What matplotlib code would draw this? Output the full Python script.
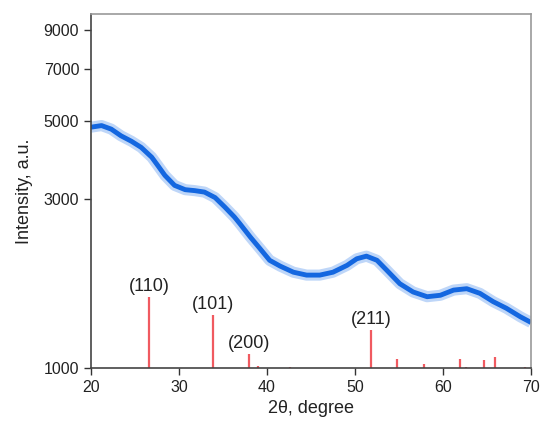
import matplotlib
matplotlib.use('Agg')
import matplotlib.pyplot as plt
from matplotlib.ticker import FixedLocator, NullLocator

plt.rcParams['font.family'] = ['Liberation Sans', 'DejaVu Sans']

two_theta = [20.0, 21.2, 22.3, 23.4, 24.6, 25.7, 26.9, 27.6, 28.4, 29.5,
             30.7, 31.8, 32.9, 34.1, 35.2, 36.3, 36.9, 38.1, 39.2, 40.3,
             41.5, 43.0, 44.5, 46.0, 47.5, 49.1, 50.2, 51.3, 52.5, 53.6,
             55.1, 56.6, 58.2, 59.7, 61.2, 62.7, 64.2, 65.7, 67.2, 68.8,
             70.0]
intensity = [4790, 4840, 4730, 4530, 4370, 4200, 3940, 3730, 3500, 3280,
             3190, 3170, 3140, 3030, 2850, 2670, 2560, 2345, 2175, 2015,
             1940, 1865, 1830, 1830, 1865, 1950, 2035, 2070, 2015, 1890,
             1730, 1640, 1590, 1605, 1660, 1675, 1625, 1540, 1475, 1395,
             1345]

# reference pattern sticks
ref_pos = [26.6, 33.9, 38.0, 39.0, 42.6, 51.8, 54.8, 57.8, 61.9, 62.6, 64.7, 65.9, 69.3]
ref_int = [1585, 1410, 1095, 1012, 1005, 1280, 1060, 1026, 1060, 1005, 1053, 1074, 1005]
hkl_pos = [26.6, 33.9, 38.0, 51.8]
hkl_int = [1585, 1410, 1095, 1280]
hkl_txt = ['(110)', '(101)', '(200)', '(211)']

fig = plt.figure(figsize=(5.41, 4.25), dpi=100)
ax = fig.add_axes([0.1682, 0.1341, 0.8133, 0.8329])

ax.plot(two_theta, intensity, color='#2a78ea', lw=8, alpha=0.3, solid_capstyle='butt')
ax.plot(two_theta, intensity, color='#1467e0', lw=3.5, solid_capstyle='butt')
ax.vlines(ref_pos, 1000, ref_int, color='#f05a60', lw=1.6)
for x, y, t in zip(hkl_pos, hkl_int, hkl_txt):
    ax.text(x, y * 1.012, t, ha='center', va='bottom', fontsize=13, color='#222222')

ax.set_yscale('log')
ax.set_xlim(20, 70)
ax.set_ylim(1000, 10000)
ax.yaxis.set_major_locator(FixedLocator([1000, 3000, 5000, 7000, 9000]))
ax.yaxis.set_minor_locator(NullLocator())
ax.set_yticklabels(['1000', '3000', '5000', '7000', '9000'])
ax.set_xticks([20, 30, 40, 50, 60, 70])
ax.tick_params(direction='out', length=5, width=1, labelsize=11.5, colors='#333333',
               labelcolor='#222222')

for s in ['left', 'bottom']:
    ax.spines[s].set_color('#444444')
    ax.spines[s].set_linewidth(1.2)
for s in ['top', 'right']:
    ax.spines[s].set_color('#999999')
    ax.spines[s].set_linewidth(1.2)

ax.set_xlabel('2θ, degree', fontsize=13, color='#222222', labelpad=4)
ax.set_ylabel('Intensity, a.u.', fontsize=13, color='#222222', labelpad=8)

fig.savefig('out.png', dpi=100)
